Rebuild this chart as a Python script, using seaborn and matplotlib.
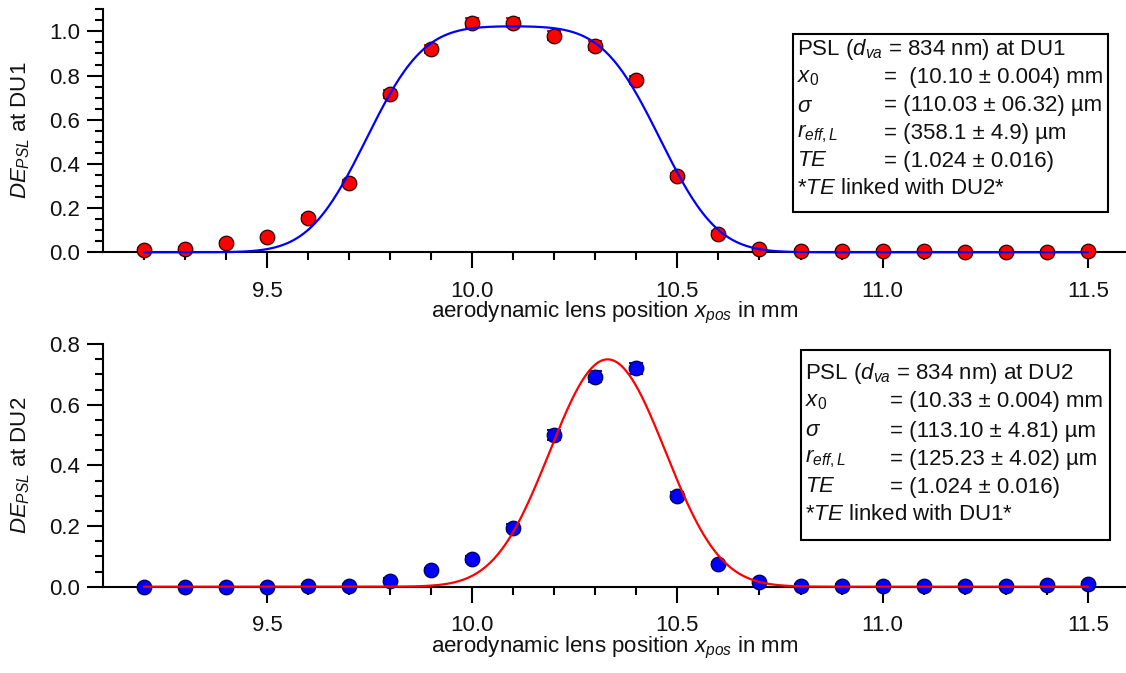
import numpy as np
import pandas as pd
import matplotlib
matplotlib.use("Agg")
import matplotlib.pyplot as plt
import seaborn as sns
from math import erf, sqrt
from matplotlib.ticker import FixedLocator, FormatStrFormatter
from matplotlib.patches import Rectangle

# ---------------- data ----------------
x_pos = [9.2, 9.3, 9.4, 9.5, 9.6, 9.7, 9.8, 9.9, 10.0, 10.1, 10.2, 10.3,
         10.4, 10.5, 10.6, 10.7, 10.8, 10.9, 11.0, 11.1, 11.2, 11.3, 11.4, 11.5]
de_du1 = [0.010, 0.015, 0.040, 0.070, 0.155, 0.315, 0.715, 0.920, 1.040, 1.040, 0.980, 0.935,
          0.780, 0.345, 0.085, 0.015, 0.005, 0.005, 0.005, 0.008, 0.003, 0.003, 0.003, 0.005]
err_du1 = [0.008, 0.008, 0.010, 0.010, 0.012, 0.014, 0.018, 0.020, 0.022, 0.022, 0.020, 0.020,
           0.018, 0.014, 0.010, 0.008, 0.008, 0.008, 0.008, 0.008, 0.008, 0.008, 0.008, 0.008]
de_du2 = [0.000, 0.000, 0.000, 0.000, 0.003, 0.003, 0.020, 0.055, 0.090, 0.195, 0.500, 0.692,
          0.720, 0.300, 0.075, 0.015, 0.002, 0.002, 0.002, 0.003, 0.002, 0.002, 0.004, 0.010]
err_du2 = [0.006, 0.006, 0.006, 0.006, 0.006, 0.006, 0.008, 0.008, 0.010, 0.012, 0.016, 0.018,
           0.018, 0.012, 0.008, 0.006, 0.006, 0.006, 0.006, 0.006, 0.006, 0.006, 0.006, 0.006]

# fit parameters (as stated in the boxes)
fit_du1 = dict(x0=10.10, sigma=0.11003, r=0.3581, te=1.024)
fit_du2 = dict(x0=10.33, sigma=0.11310, r=0.12523, te=1.024)

box1_labels = ["PSL ($d_{va}$ = 834 nm) at DU1", r"$x_{\mathit{0}}$", r"$\sigma$",
               r"$r_{eff,L}$", r"$TE$", r"*$TE$ linked with DU2*"]
box1_values = ["", "=  (10.10 ± 0.004) mm", "= (110.03 ± 06.32) µm",
               "= (358.1 ± 4.9) µm", "= (1.024 ± 0.016)", ""]
box2_labels = ["PSL ($d_{va}$ = 834 nm) at DU2", r"$x_{\mathit{0}}$", r"$\sigma$",
               r"$r_{eff,L}$", r"$TE$", r"*$TE$ linked with DU1*"]
box2_values = ["", "= (10.33 ± 0.004) mm", "= (113.10 ± 4.81) µm",
               "= (125.23 ± 4.02) µm", "= (1.024 ± 0.016)", ""]

x_major = [9.5, 10.0, 10.5, 11.0, 11.5]


def fit_curve(x, p):
    s = p["sigma"] * sqrt(2.0)
    return np.array([p["te"] * 0.5 * (erf((xi - (p["x0"] - p["r"])) / s)
                                     - erf((xi - (p["x0"] + p["r"])) / s)) for xi in x])


# ---------------- style ----------------
sns.set_theme(style="ticks")
plt.rcParams["font.family"] = ["Liberation Sans", "DejaVu Sans"]
plt.rcParams["mathtext.fontset"] = "custom"
plt.rcParams["mathtext.rm"] = "Liberation Sans"
plt.rcParams["mathtext.it"] = "Liberation Sans:italic"
plt.rcParams["mathtext.bf"] = "Liberation Sans:bold"
plt.rcParams["mathtext.default"] = "it"

FS = 16
TXT = "#111111"
W, H = 1126, 673
fig = plt.figure(figsize=(W / 100, H / 100), dpi=100)

xleft_px = 102.7
px_per_unit = 410.5
xlim = (9.1, 9.1 + (W - xleft_px) / px_per_unit)


def make_axes(top_px, bottom_px):
    return fig.add_axes([xleft_px / W, 1 - bottom_px / H, (W - xleft_px) / W,
                         (bottom_px - top_px) / H])


ax1 = make_axes(9.3, 252.3)
ax2 = make_axes(344.0, 586.7)

xf = np.linspace(9.2, 11.5, 600)
df1 = pd.DataFrame({"x": x_pos, "y": de_du1, "e": err_du1})
df2 = pd.DataFrame({"x": x_pos, "y": de_du2, "e": err_du2})
fit1 = pd.DataFrame({"x": xf, "y": fit_curve(xf, fit_du1)})
fit2 = pd.DataFrame({"x": xf, "y": fit_curve(xf, fit_du2)})

panels = [
    (ax1, df1, fit1, "#ff0000", "#2a0000", "#0000ff", (0, 1.1),
     np.round(np.arange(0, 1.01, 0.2), 2), np.round(np.arange(0, 1.101, 0.05), 3),
     "$DE_{PSL}$ at DU1"),
    (ax2, df2, fit2, "#0000ff", "#00004a", "#ff0000", (0, 0.8),
     np.round(np.arange(0, 0.81, 0.2), 2), np.round(np.arange(0, 0.801, 0.05), 3),
     "$DE_{PSL}$ at DU2"),
]

for ax, df, fit, mcol, ecol, lcol, ylim, ymaj, ymin, ylab in panels:
    ax.errorbar(df["x"], df["y"], yerr=df["e"], fmt="none", ecolor=mcol,
                elinewidth=1.5, capsize=5, capthick=1.5, zorder=3, clip_on=False)
    sns.lineplot(data=fit, x="x", y="y", ax=ax, color=lcol, linewidth=1.6,
                 zorder=5, clip_on=False)
    sns.scatterplot(data=df, x="x", y="y", ax=ax, color=mcol, edgecolor=ecol,
                    linewidth=0.9, s=110, zorder=4, clip_on=False)
    ax.set_xlim(*xlim)
    ax.set_ylim(*ylim)
    for sp in ["top", "right"]:
        ax.spines[sp].set_visible(False)
    for sp in ["left", "bottom"]:
        ax.spines[sp].set_linewidth(1.5)
        ax.spines[sp].set_color("black")
    ax.xaxis.set_major_locator(FixedLocator(x_major))
    ax.xaxis.set_minor_locator(FixedLocator([v for v in x_pos if v not in x_major]))
    ax.xaxis.set_major_formatter(FormatStrFormatter("%.1f"))
    ax.yaxis.set_major_locator(FixedLocator(list(ymaj)))
    ax.yaxis.set_minor_locator(FixedLocator([v for v in ymin if v not in list(ymaj)]))
    ax.yaxis.set_major_formatter(FormatStrFormatter("%.1f"))
    ax.tick_params(axis="both", which="major", length=11.5, width=1.5,
                   color="black", labelsize=FS, labelcolor=TXT)
    ax.tick_params(axis="both", which="minor", length=5.5, width=1.5, color="black")
    ax.tick_params(axis="x", which="major", pad=9)
    ax.tick_params(axis="y", which="major", pad=5)
    ax.set_ylabel(ylab, fontsize=FS, color=TXT)
    ax.yaxis.label.set_va("center")
    ax.yaxis.set_label_coords(-82 / ((ax.get_position().width) * W), 0.5)
    ax.set_xlabel("aerodynamic lens position $x_{pos}$ in mm", fontsize=FS, color=TXT)
    ax.xaxis.set_label_coords(0.5, -61 / ((ax.get_position().height) * H))
    ax.xaxis.label.set_va("center")
    ax.patch.set_visible(False)


def draw_box(left, top, right, bottom, labels, values, line_y, val_x):
    fig.patches.append(Rectangle((left / W, 1 - bottom / H), (right - left) / W,
                                 (bottom - top) / H, transform=fig.transFigure,
                                 fill=False, edgecolor="black", linewidth=1.5))
    for lab, val, yy in zip(labels, values, line_y):
        fig.text((left + 4) / W, 1 - yy / H, lab, fontsize=FS, va="center",
                 ha="left", color=TXT)
        if val:
            fig.text(val_x / W, 1 - yy / H, val, fontsize=FS, va="center",
                     ha="left", color=TXT)


draw_box(793, 34, 1108, 212, box1_labels, box1_values,
         [50, 78, 106, 134, 161, 188], 884)
draw_box(801, 350, 1110, 540, box2_labels, box2_values,
         [373, 402, 431, 459, 487, 514], 890)

fig.savefig("out.png", dpi=100)
